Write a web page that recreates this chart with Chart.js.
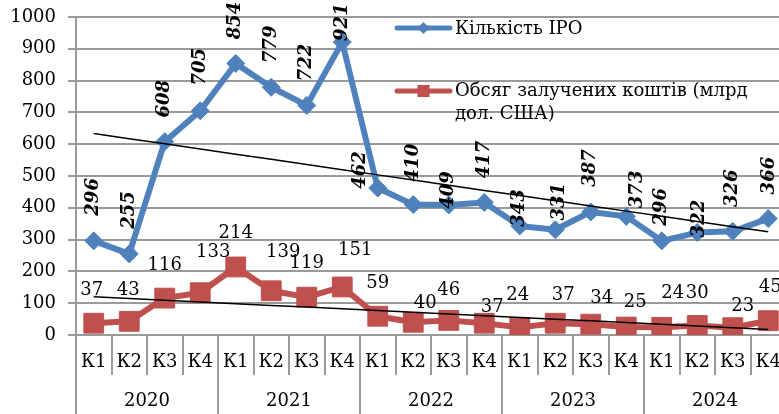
<!DOCTYPE html>
<html><head><meta charset="utf-8">
<script src="https://cdn.jsdelivr.net/npm/chart.js@4.4.1/dist/chart.umd.min.js"></script>
<style>
html,body{margin:0;padding:0;overflow:hidden;background:#fff;width:779px;height:414px}
#wrap{width:801px;height:414px;position:relative}
</style>
</head><body><div id="wrap"><canvas id="c" width="801" height="414"></canvas></div>
<script>
// ---- data ----
const quarters = ['К1','К2','К3','К4','К1','К2','К3','К4','К1','К2','К3','К4','К1','К2','К3','К4','К1','К2','К3','К4'];
const years = ['2020','2021','2022','2023','2024'];
const ipoCount = [296,255,608,705,854,779,722,921,462,410,409,417,343,331,387,373,296,322,326,366];
const proceeds = [37,43,116,133,214,139,119,151,59,40,46,37,24,37,34,25,24,30,23,45];
const yMin = 0, yMax = 1000, yStep = 100;
const legendIpo = 'Кількість IPO';
const legendProceeds = ['Обсяг залучених коштів (млрд', 'дол. США)'];

// ---- label layout (px nudges relative to each point) ----
const ipoLabelDx = [0,0,0,0,0,0,0,0,-17,0,0,0,0,4,0,11,0,2,0,1];
const ipoLabelDy = [-44,-44,-43,-44,-43,-43,-43,-20,-18,-42,-15,-43,-18,-28,-44,-27,-34,-14,-43,-43];
const prLabelDx = [-2,-1,0,13,0,12,0,13,0,12,0,8,-2,8,11,9,11,0,10,2];
const prLabelDy = [-33,-31,-33,-40,-34,-38,-34,-37,-33,-19,-30,-16,-32,-28,-26,-25,-34,-32,-21,-33];

function linTrend(v){
  const n=v.length; let sx=0,sy=0,sxy=0,sxx=0;
  v.forEach((y,i)=>{sx+=i;sy+=y;sxy+=i*y;sxx+=i*i;});
  const b=(n*sxy-sx*sy)/(n*sxx-sx*sx), a=(sy-b*sx)/n;
  return v.map((_,i)=>a+b*i);
}

const BLUE='#4F81BD', RED='#C0504D', GRID='#9a9a9a';
const FONT='"DejaVu Serif", "Liberation Serif", serif';
Chart.defaults.font.family = FONT;
Chart.defaults.font.size = 18;
Chart.defaults.color = '#000';
function noPad(s){ s.paddingTop=0; s.paddingBottom=0; s.paddingLeft=0; s.paddingRight=0; }

const valueLabels = {
  id:'valueLabels',
  afterDatasetsDraw(chart){
    const ctx=chart.ctx;
    const mb=chart.getDatasetMeta(2), mr=chart.getDatasetMeta(3);
    ctx.save();
    ctx.fillStyle='#000';
    ctx.textAlign='center'; ctx.textBaseline='middle';
    ctx.font='italic bold 18px '+FONT;
    mb.data.forEach((p,i)=>{
      ctx.save();
      ctx.translate(p.x+ipoLabelDx[i], p.y+ipoLabelDy[i]);
      ctx.rotate(-Math.PI/2);
      ctx.fillText(String(ipoCount[i]),0,0);
      ctx.restore();
    });
    ctx.font='18px '+FONT;
    mr.data.forEach((p,i)=>{
      ctx.fillText(String(proceeds[i]), p.x+prLabelDx[i], p.y+prLabelDy[i]);
    });
    ctx.restore();
  }
};

const customLegend = {
  id:'customLegend',
  afterDraw(chart){
    const ctx=chart.ctx;
    const x0=397, x1=450, xm=(x0+x1)/2, tx=455;
    const y1=28, y2=91;
    ctx.save();
    ctx.lineCap='round';
    ctx.lineWidth=5;
    ctx.strokeStyle=BLUE; ctx.fillStyle=BLUE;
    ctx.beginPath(); ctx.moveTo(x0,y1); ctx.lineTo(x1,y1); ctx.stroke();
    ctx.beginPath(); ctx.moveTo(xm-6,y1); ctx.lineTo(xm,y1-6); ctx.lineTo(xm+6,y1); ctx.lineTo(xm,y1+6); ctx.closePath(); ctx.fill();
    ctx.strokeStyle=RED; ctx.fillStyle=RED;
    ctx.beginPath(); ctx.moveTo(x0,y2); ctx.lineTo(x1,y2); ctx.stroke();
    ctx.fillRect(xm-6,y2-6,12,12);
    ctx.fillStyle='#000';
    ctx.font='18px '+FONT;
    ctx.textAlign='left'; ctx.textBaseline='middle';
    ctx.fillText(legendIpo, tx, y1+1);
    ctx.fillText(legendProceeds[0], tx, y2);
    ctx.fillText(legendProceeds[1], tx, y2+23);
    ctx.restore();
  }
};

new Chart(document.getElementById('c'), {
  type:'line',
  data:{
    labels: quarters,
    datasets:[
      {label:'trend IPO', data: linTrend(ipoCount), borderColor:'#000', borderWidth:1.5, pointRadius:0, fill:false, order:0},
      {label:'trend proceeds', data: linTrend(proceeds), borderColor:'#000', borderWidth:1.5, pointRadius:0, fill:false, order:0},
      {label: legendIpo, data: ipoCount, borderColor:BLUE, backgroundColor:BLUE, borderWidth:6,
        pointStyle:'rectRot', pointRadius:9, pointBorderWidth:1, pointBackgroundColor:BLUE, pointBorderColor:BLUE, order:1},
      {label: legendProceeds.join(' '), data: proceeds, borderColor:RED, backgroundColor:RED, borderWidth:6,
        pointStyle:'rect', pointRadius:14, pointBorderWidth:1, pointBackgroundColor:RED, pointBorderColor:RED, order:2}
    ]
  },
  options:{
    responsive:false, animation:false, devicePixelRatio:1,
    layout:{padding:{top:17,right:4,left:0,bottom:0}},
    plugins:{legend:{display:false}, tooltip:{enabled:false}},
    elements:{line:{tension:0, borderJoinStyle:'round'}},
    scales:{
      y:{
        min:yMin, max:yMax,
        ticks:{stepSize:yStep, padding:12, callback:v=>String(v)},
        grid:{color:GRID, lineWidth:2, tickLength:8},
        border:{color:GRID, width:2},
        afterFit(s){ s.width=76; noPad(s); }
      },
      x:{
        type:'category', position:'bottom', weight:0, offset:true,
        ticks:{padding:-23, maxRotation:0, autoSkip:false},
        grid:{drawOnChartArea:false, offset:true, tickLength:40, color:GRID, lineWidth:2},
        border:{color:GRID, width:2},
        afterFit(s){ s.height=40; noPad(s); }
      },
      x2:{
        type:'category', position:'bottom', weight:1, offset:true, labels: years, display:true,
        ticks:{padding:-23, maxRotation:0, autoSkip:false},
        grid:{drawOnChartArea:false, offset:true, tickLength:39, color:GRID, lineWidth:2},
        border:{display:false},
        afterFit(s){ s.height=39; noPad(s); }
      }
    }
  },
  plugins:[valueLabels, customLegend]
});
</script>
</body></html>
